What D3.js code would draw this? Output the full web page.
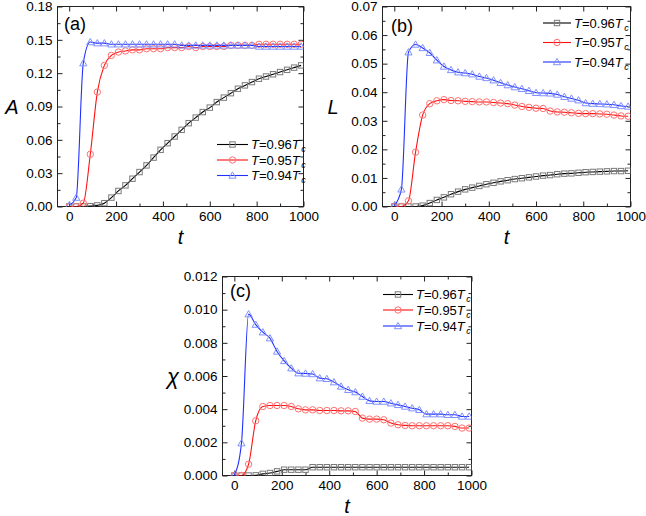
<!DOCTYPE html>
<html><head><meta charset="utf-8">
<script src="https://cdn.jsdelivr.net/npm/d3@7"></script>
<style>
html,body{margin:0;padding:0;background:#fff;}
svg{display:block;}
text{font-family:"Liberation Sans",Arial,sans-serif;fill:#000;}
</style></head>
<body><svg id="chart" width="646" height="516"></svg>
<script>
// ---------------- DATA ----------------
const tVals = [0,30,60,90,120,150,180,210,240,270,300,330,360,390,420,450,480,510,540,570,600,630,660,690,720,750,780,810,840,870,900,930,960,990];
const seriesNames = ["0.96", "0.95", "0.94"];

// panel (a): A
const A096 = [0,0,0,0.0003,0.001,0.003,0.008,0.014,0.019,0.025,0.031,0.037,0.044,0.051,0.057,0.063,0.069,0.075,0.080,0.085,0.089,0.094,0.098,0.102,0.106,0.109,0.112,0.115,0.117,0.119,0.121,0.123,0.125,0.127];
const A095 = [0,0,0.003,0.047,0.103,0.127,0.136,0.139,0.140,0.141,0.141,0.142,0.142,0.142,0.143,0.143,0.143,0.144,0.143,0.144,0.144,0.144,0.144,0.145,0.145,0.145,0.145,0.146,0.146,0.146,0.146,0.146,0.146,0.146];
const A094 = [0.001,0.008,0.129,0.148,0.147,0.147,0.146,0.146,0.146,0.146,0.146,0.146,0.146,0.146,0.146,0.146,0.145,0.145,0.145,0.145,0.145,0.145,0.145,0.145,0.145,0.145,0.145,0.144,0.144,0.144,0.144,0.144,0.144,0.144];

// panel (b): L
const L096 = [0,0,0,0,0.0003,0.0012,0.0023,0.0032,0.0043,0.0052,0.0060,0.0066,0.0072,0.0078,0.0083,0.0088,0.0092,0.0096,0.0099,0.0102,0.0105,0.0108,0.0110,0.0113,0.0115,0.0116,0.0118,0.0120,0.0121,0.0122,0.0123,0.0124,0.0124,0.0125];
const L095 = [0,0,0.002,0.019,0.032,0.036,0.037,0.0374,0.0371,0.0370,0.0368,0.0367,0.0366,0.0366,0.0364,0.0362,0.0360,0.0355,0.0350,0.0347,0.0344,0.0343,0.0334,0.0331,0.0330,0.0328,0.0326,0.0325,0.0325,0.0324,0.0323,0.0320,0.0317,0.0316];
const L094 = [0.0003,0.006,0.054,0.0567,0.0555,0.0538,0.0512,0.0490,0.0478,0.0470,0.0467,0.0463,0.0455,0.0450,0.0442,0.0433,0.0425,0.0418,0.0412,0.0405,0.0398,0.0397,0.0396,0.0392,0.0384,0.0378,0.0372,0.0362,0.0360,0.0359,0.0358,0.0356,0.0352,0.0350];

// panel (c): chi
const X096 = [0,0,0,0.00001,0.0001,0.00015,0.00025,0.00035,0.00035,0.00035,0.00035,0.0005,0.0005,0.0005,0.0005,0.0005,0.0005,0.0005,0.0005,0.0005,0.0005,0.0005,0.0005,0.0005,0.0005,0.0005,0.0005,0.0005,0.0005,0.0005,0.0005,0.0005,0.0005,0.0005];
const X095 = [0,0,0.00068,0.0033,0.00416,0.00422,0.00422,0.00422,0.00416,0.00402,0.00396,0.00396,0.00392,0.00392,0.00392,0.0039,0.0039,0.00386,0.00346,0.0034,0.0034,0.00336,0.00316,0.00306,0.00302,0.0030,0.0030,0.0030,0.0030,0.0030,0.0030,0.00296,0.00286,0.00286];
const X094 = [0,0.00195,0.00973,0.0091,0.00864,0.00828,0.00748,0.00691,0.00647,0.00617,0.00615,0.00612,0.00587,0.00583,0.00563,0.00537,0.00517,0.00503,0.00476,0.0045,0.00446,0.00446,0.00436,0.00426,0.00416,0.00406,0.00396,0.0037,0.0037,0.0037,0.00366,0.00366,0.00356,0.00356];

const xTicks = [0,200,400,600,800,1000];
const xMinor = [100,300,500,700,900];
const aTicks = [0,0.03,0.06,0.09,0.12,0.15,0.18];
const bTicks = [0,0.01,0.02,0.03,0.04,0.05,0.06,0.07];
const cTicks = [0,0.002,0.004,0.006,0.008,0.010,0.012];

// ---------------- STYLE / LAYOUT ----------------
const styles = [
  {line:"#000000", mk:"#7a7a7a", shape:"square"},
  {line:"#ff1010", mk:"#ff7070", shape:"circle"},
  {line:"#2030ff", mk:"#7f90ff", shape:"triangle"}
];

const svg = d3.select("#chart");

function marker(g, shape, x, y, color){
  if(shape==="square"){
    g.append("rect").attr("x",x-2.7).attr("y",y-2.7).attr("width",5.4).attr("height",5.4)
      .attr("fill","none").attr("stroke",color).attr("stroke-width",1);
  } else if(shape==="circle"){
    g.append("circle").attr("cx",x).attr("cy",y).attr("r",3.2)
      .attr("fill","none").attr("stroke",color).attr("stroke-width",1);
  } else {
    const s=3.6;
    g.append("path").attr("d",`M${x},${y-s}L${x+s},${y+s*0.75}L${x-s},${y+s*0.75}Z`)
      .attr("fill","none").attr("stroke",color).attr("stroke-width",1);
  }
}

function panel(cfg){
  const x = d3.scaleLinear().domain([-50,1000]).range([cfg.x0,cfg.x1]);
  const y = d3.scaleLinear().domain([0,cfg.ymax]).range([cfg.y1,cfg.y0]);
  const g = svg.append("g");
  const clipId = "clip"+cfg.label;
  svg.append("clipPath").attr("id",clipId).append("rect")
    .attr("x",cfg.x0).attr("y",cfg.y0-4).attr("width",cfg.x1-cfg.x0).attr("height",cfg.y1-cfg.y0+4);

  const yMinor = [];
  for(let i=0;i<cfg.yTicks.length-1;i++) yMinor.push((cfg.yTicks[i]+cfg.yTicks[i+1])/2);

  // axes
  g.append("g").attr("transform",`translate(0,${cfg.y1})`)
    .call(d3.axisBottom(x).tickValues(xTicks).tickSize(-5).tickSizeOuter(0).tickPadding(5).tickFormat(d3.format("d")));
  g.append("g").attr("transform",`translate(0,${cfg.y1})`)
    .call(d3.axisBottom(x).tickValues(xMinor).tickSize(-3).tickSizeOuter(0).tickFormat(""));
  g.append("g").attr("transform",`translate(0,${cfg.y0})`)
    .call(d3.axisTop(x).tickValues(xTicks).tickSize(-5).tickSizeOuter(0).tickFormat(""));
  g.append("g").attr("transform",`translate(0,${cfg.y0})`)
    .call(d3.axisTop(x).tickValues(xMinor).tickSize(-3).tickSizeOuter(0).tickFormat(""));
  g.append("g").attr("transform",`translate(${cfg.x0},0)`)
    .call(d3.axisLeft(y).tickValues(cfg.yTicks).tickSize(-5).tickSizeOuter(0).tickPadding(5).tickFormat(d3.format(cfg.fmt)));
  g.append("g").attr("transform",`translate(${cfg.x0},0)`)
    .call(d3.axisLeft(y).tickValues(yMinor).tickSize(-3).tickSizeOuter(0).tickFormat(""));
  g.append("g").attr("transform",`translate(${cfg.x1},0)`)
    .call(d3.axisRight(y).tickValues(cfg.yTicks).tickSize(-5).tickSizeOuter(0).tickFormat(""));
  g.append("g").attr("transform",`translate(${cfg.x1},0)`)
    .call(d3.axisRight(y).tickValues(yMinor).tickSize(-3).tickSizeOuter(0).tickFormat(""));
  g.selectAll(".domain").remove();
  g.selectAll(".tick line").attr("stroke","#222");
  g.selectAll(".tick text").attr("font-size",13.5).attr("font-family","'Liberation Sans',Arial,sans-serif").attr("fill","#000");

  // frame
  g.append("rect").attr("x",cfg.x0).attr("y",cfg.y0).attr("width",cfg.x1-cfg.x0).attr("height",cfg.y1-cfg.y0)
    .attr("fill","none").attr("stroke","#222").attr("stroke-width",1);

  // series
  const line = d3.line().x((d,i)=>x(tVals[i])).y(d=>y(d)).curve(d3.curveMonotoneX);
  const pg = g.append("g").attr("clip-path",`url(#${clipId})`);
  cfg.series.forEach((vals,si)=>{
    const st = styles[si];
    pg.append("path").attr("d",line(vals)).attr("fill","none").attr("stroke",st.line).attr("stroke-width",1.1);
    vals.forEach((v,i)=> marker(pg, st.shape, x(tVals[i]), y(v), st.mk));
  });

  // legend
  cfg.legendRows.forEach((ry,si)=>{
    const st = styles[si];
    g.append("line").attr("x1",cfg.lx0).attr("x2",cfg.lx1).attr("y1",ry).attr("y2",ry)
      .attr("stroke",st.line).attr("stroke-width",1.1);
    marker(g, st.shape, (cfg.lx0+cfg.lx1)/2, ry, st.mk);
    const t = g.append("text").attr("x",cfg.lx1+3).attr("y",ry).attr("dy","0.36em").attr("font-size",13);
    t.append("tspan").attr("font-style","italic").text("T");
    t.append("tspan").text("=" + seriesNames[si]);
    t.append("tspan").attr("font-style","italic").text("T");
    t.append("tspan").attr("font-style","italic").attr("font-size",9).attr("dx",1.5).attr("dy",3).text("c");
  });

  // panel label
  g.append("text").attr("x",cfg.plx).attr("y",cfg.ply).attr("dy","0.36em").attr("font-size",18).text("("+cfg.label+")");

  // axis titles
  g.append("text").attr("x",(cfg.x0+cfg.x1)/2).attr("y",cfg.txy).attr("text-anchor","middle")
    .attr("font-size",20).attr("font-style","italic").text("t");
  g.append("text").attr("x",cfg.yTx).attr("y",(cfg.y0+cfg.y1)/2).attr("dy","0.36em").attr("text-anchor","middle")
    .attr("font-size",cfg.yFont).attr("font-style",cfg.yStyle).attr("font-family",cfg.yFamily).text(cfg.yTitle);
}

panel({label:"a", x0:57.5, x1:303.5, y0:6.5, y1:206.5, ymax:0.18, yTicks:aTicks, fmt:".2f",
  series:[A096,A095,A094], legendRows:[144.5,160,175.5], lx0:217, lx1:248,
  plx:64, ply:24, txy:244, yTx:12, yTitle:"A", yFont:20, yStyle:"italic", yFamily:"'Liberation Sans',Arial,sans-serif"});
panel({label:"b", x0:382.5, x1:630.5, y0:6.5, y1:206.5, ymax:0.07, yTicks:bTicks, fmt:".2f",
  series:[L096,L095,L094], legendRows:[23,42.5,62], lx0:543, lx1:571,
  plx:391, ply:26, txy:244, yTx:333, yTitle:"L", yFont:20, yStyle:"italic", yFamily:"'Liberation Sans',Arial,sans-serif"});
panel({label:"c", x0:222.5, x1:471.5, y0:276.5, y1:475.5, ymax:0.012, yTicks:cTicks, fmt:".3f",
  series:[X096,X095,X094], legendRows:[294.5,310,326], lx0:383, lx1:413,
  plx:230, ply:291, txy:513, yTx:173, yTitle:"χ", yFont:22, yStyle:"italic", yFamily:"'DejaVu Serif',serif"});
</script></body></html>
